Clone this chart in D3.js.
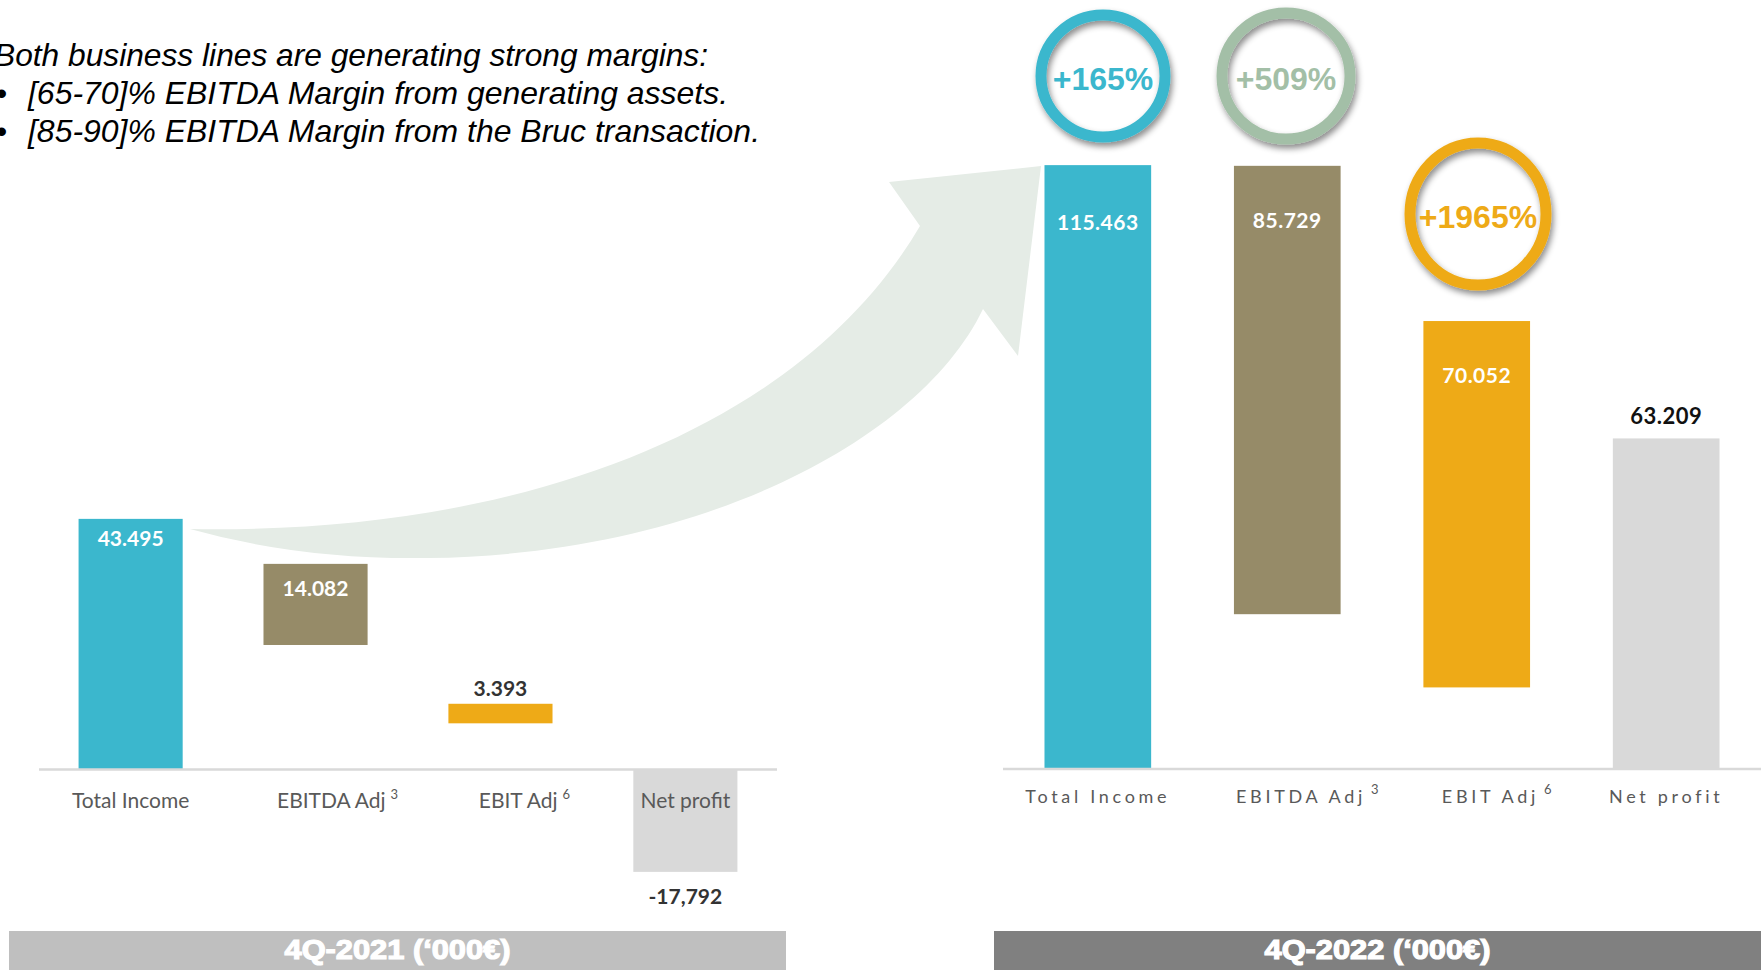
<!DOCTYPE html>
<html><head><meta charset="utf-8">
<script src="https://cdn.jsdelivr.net/npm/d3@7"></script>
<style>html,body{margin:0;padding:0;background:#fff;overflow:hidden}</style>
</head><body>
<svg id="c" width="1761" height="970"></svg>
<script>
// ---------- data ----------
const categories = ["Total Income", "EBITDA Adj", "EBIT Adj", "Net profit"];
const superscripts = ["", "3", "6", ""];
const values2021 = [43.495, 14.082, 3.393, -17.792];
const bases2021 = [0, 21.6, 8.0, 0];
const labels2021 = ["43.495", "14.082", "3.393", "-17,792"];
const values2022 = [115.463, 85.729, 70.052, 63.209];
const bases2022 = [0, 29.6, 15.6, 0];
const labels2022 = ["115.463", "85.729", "70.052", "63.209"];
const growthLabels = ["+165%", "+509%", "+1965%"];
const panelTitles = ["4Q-2021 (\u2018000\u20AC)", "4Q-2022 (\u2018000\u20AC)"];
const noteLines = [
  "Both business lines are generating strong margins:",
  "[65-70]% EBITDA Margin from generating assets.",
  "[85-90]% EBITDA Margin from the Bruc transaction."
];
const barColors = ["#3bb7cd", "#968b68", "#eeaa17", "#d9d9d9"];
const growthColors = ["#3bb7cd", "#a3bfa7", "#eeaa17"];

// ---------- setup ----------
const svg = d3.select("#c");
const defs = svg.append("defs");
const f = defs.append("filter").attr("id", "sh").attr("x", "-30%").attr("y", "-30%").attr("width", "160%").attr("height", "160%");
f.append("feDropShadow").attr("dx", 2).attr("dy", 4).attr("stdDeviation", 3)
  .attr("flood-color", "#000").attr("flood-opacity", 0.45);

const calibri = "Lato, 'Open Sans', sans-serif";

// ---------- note text ----------
const noteG = svg.append("g")
  .attr("font-family", "'Liberation Sans Narrow','Liberation Sans',Arial,sans-serif")
  .attr("font-style", "italic").attr("font-size", 32).attr("fill", "#000");
const noteX = [-6, 28, 28], noteY = [66, 104, 142], noteW = [714, 700, 732];
noteLines.forEach((t, i) => {
  noteG.append("text").attr("x", noteX[i]).attr("y", noteY[i])
    .attr("textLength", noteW[i]).attr("lengthAdjust", "spacingAndGlyphs").text(t);
  if (i > 0) noteG.append("text").attr("x", -4).attr("y", noteY[i]).attr("font-style", "normal").text("\u2022");
});

// ---------- arrow ----------
svg.append("path")
  .attr("d", "M190,529 C520,535 800,430 920,226 L889,182 L1041,166 L1018,356 L983,309 C920,440 700,555 428,558 Q300,560 190,529 Z")
  .attr("fill", "#e5ece6");

// ---------- panels ----------
function panel(opts) {
  const x = d3.scaleBand().domain(categories).range(opts.xr)
    .paddingInner(0.437).paddingOuter(opts.po);
  const y = d3.scaleLinear().domain(opts.yd).range(opts.yr);
  const g = svg.append("g");
  const data = categories.map((c, i) => ({
    c, i, v: opts.values[i], b: opts.bases[i], lab: opts.labels[i]
  }));
  g.selectAll("rect.bar").data(data).join("rect").attr("class", "bar")
    .attr("x", d => x(d.c)).attr("width", x.bandwidth())
    .attr("y", d => y(Math.max(d.b, d.b + d.v)))
    .attr("height", d => Math.abs(y(d.b) - y(d.b + d.v)))
    .attr("fill", (d, i) => barColors[i]);

  if (opts.zeroLabel) {
    g.append("text").attr("x", x(categories[0]) + x.bandwidth() / 2).attr("y", y(0) + 12)
      .attr("text-anchor", "middle").attr("font-family", calibri).attr("font-size", 18)
      .attr("fill", "#fff").text("0");
  }

  // axis baseline
  g.append("line").attr("x1", opts.xr[0]).attr("x2", opts.xr[1])
    .attr("y1", y(0)).attr("y2", y(0)).attr("stroke", "#d9d9d9").attr("stroke-width", 2.5);

  const isInside = d => d.i < 3 && Math.abs(y(d.b) - y(d.b + d.v)) > 40;
  // value labels
  g.selectAll("text.val").data(data).join("text").attr("class", "val")
    .attr("font-family", calibri).attr("font-weight", 700)
    .attr("font-size", d => isInside(d) ? 21 : opts.outSize)
    .attr("text-anchor", "middle")
    .attr("x", d => x(d.c) + x.bandwidth() / 2)
    .attr("y", d => {
      const top = y(Math.max(d.b, d.b + d.v)), bot = y(Math.min(d.b, d.b + d.v));
      if (isInside(d)) return top + opts.inOff[d.i];
      if (d.v < 0) return bot + 32;
      return top - opts.outOff;
    })
    .attr("fill", d => isInside(d) ? "#fff" : opts.darkCol)
    .attr("letter-spacing", opts.valSpacing)
    .text(d => d.lab);

  // category labels
  const cl = g.selectAll("text.cat").data(data).join("text").attr("class", "cat")
    .attr("font-family", calibri).attr("font-size", opts.catSize).attr("fill", "#595959")
    .attr("letter-spacing", opts.catSpacing)
    .attr("text-anchor", "middle")
    .attr("x", d => x(d.c) + x.bandwidth() / 2 + opts.catShift[d.i])
    .attr("y", opts.catY);
  cl.append("tspan").text(d => d.c);
  cl.filter(d => superscripts[d.i]).append("tspan")
    .attr("dx", 5).attr("dy", -9).attr("font-size", 13).attr("letter-spacing", 0)
    .text(d => superscripts[d.i]);

  // title banner
  g.append("rect").attr("x", opts.banner[0]).attr("width", opts.banner[1] - opts.banner[0])
    .attr("y", 931).attr("height", 39).attr("fill", opts.bannerCol);
  g.append("text").attr("x", (opts.banner[0] + opts.banner[1]) / 2).attr("y", 959)
    .attr("text-anchor", "middle").attr("font-family", "'Liberation Sans',Arial,sans-serif")
    .attr("font-weight", 700).attr("font-size", 28).attr("fill", "#fff")
    .attr("stroke", "#fff").attr("stroke-width", 1.2)
    .attr("textLength", 226).attr("lengthAdjust", "spacingAndGlyphs")
    .text(opts.title);
  return { x, y, g };
}

panel({
  xr: [39, 777], po: 0.214, yd: [-20, 50], yr: [884.6, 481.4],
  values: values2021, bases: bases2021, labels: labels2021,
  inOff: [27, 32, 0, 0], outOff: 8, outSize: 21, darkCol: "#333", valSpacing: 0,
  catSize: 21, catSpacing: 0, catY: 808, catShift: [0, 22, 24, 0],
  banner: [9, 786], bannerCol: "#bfbfbf", title: panelTitles[0]
});

panel({
  xr: [1003, 1761], po: 0.219, yd: [0, 120], yr: [769, 141.4],
  values: values2022, bases: bases2022, labels: labels2022,
  inOff: [65, 62, 62, 0], outOff: 14, outSize: 22, darkCol: "#111", valSpacing: 0.5,
  catSize: 18, catSpacing: 3.7, catY: 803, catShift: [0, 20, 20, 0],
  banner: [994, 1761], bannerCol: "#808080", title: panelTitles[1],
  zeroLabel: true
});

// ---------- growth circles ----------
const circPos = [[1103, 76, 62, 61], [1286, 76, 64, 63], [1478, 214, 68, 71]];
const cg = svg.append("g");
growthLabels.forEach((t, i) => {
  const [cx, cy, rx, ry] = circPos[i];
  cg.append("ellipse").attr("cx", cx).attr("cy", cy).attr("rx", rx).attr("ry", ry)
    .attr("fill", "none").attr("stroke", growthColors[i]).attr("stroke-width", 11)
    .attr("filter", "url(#sh)");
  cg.append("text").attr("x", cx).attr("y", cy + 14).attr("text-anchor", "middle")
    .attr("font-family", "'Liberation Sans',Arial,sans-serif").attr("font-weight", 700)
    .attr("font-size", 32).attr("fill", growthColors[i]).text(t);
});
</script>
</body></html>
